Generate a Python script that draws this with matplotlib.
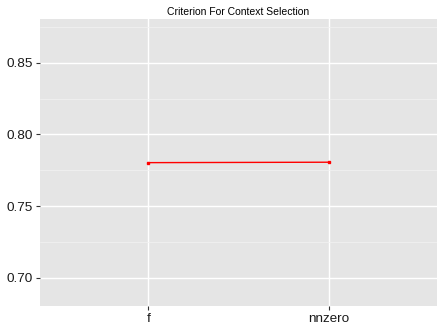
import matplotlib
matplotlib.use("Agg")
import matplotlib.pyplot as plt
from matplotlib.ticker import MultipleLocator

plt.rcParams["font.family"] = ["Liberation Sans", "DejaVu Sans"]

# Data
criteria = ["f", "nnzero"]
scores = [0.7803, 0.7806]
y_ticks = [0.70, 0.75, 0.80, 0.85]

fig = plt.figure(figsize=(4.37, 3.29), dpi=100)
ax = fig.add_axes([40 / 437, 1 - 306 / 329, 397 / 437, 287 / 329])
ax.set_facecolor("#e5e5e5")

x = list(range(len(criteria)))
ax.plot(x, scores, color="red", linewidth=1.0, marker="s", markersize=2.0, zorder=3)

ax.set_xlim(-0.6, len(criteria) - 1 + 0.6)
ax.set_ylim(0.6803, 0.8805)
ax.set_xticks(x)
ax.set_xticklabels(criteria)
ax.set_yticks(y_ticks)
ax.set_yticklabels([f"{v:.2f}" for v in y_ticks])
ax.yaxis.set_minor_locator(MultipleLocator(0.025))

ax.grid(which="major", color="white", linewidth=1.0)
ax.grid(which="minor", axis="y", color="#f2f2f2", linewidth=0.5)
ax.set_axisbelow(True)
for s in ax.spines.values():
    s.set_visible(False)

ax.tick_params(which="major", length=3, color="#333333", labelsize=9.7, labelcolor="#1a1a1a", pad=2)
ax.tick_params(which="minor", length=0)

ax.set_title("Criterion For Context Selection", fontsize=7.5, pad=3)

fig.savefig("out.png", dpi=100)
